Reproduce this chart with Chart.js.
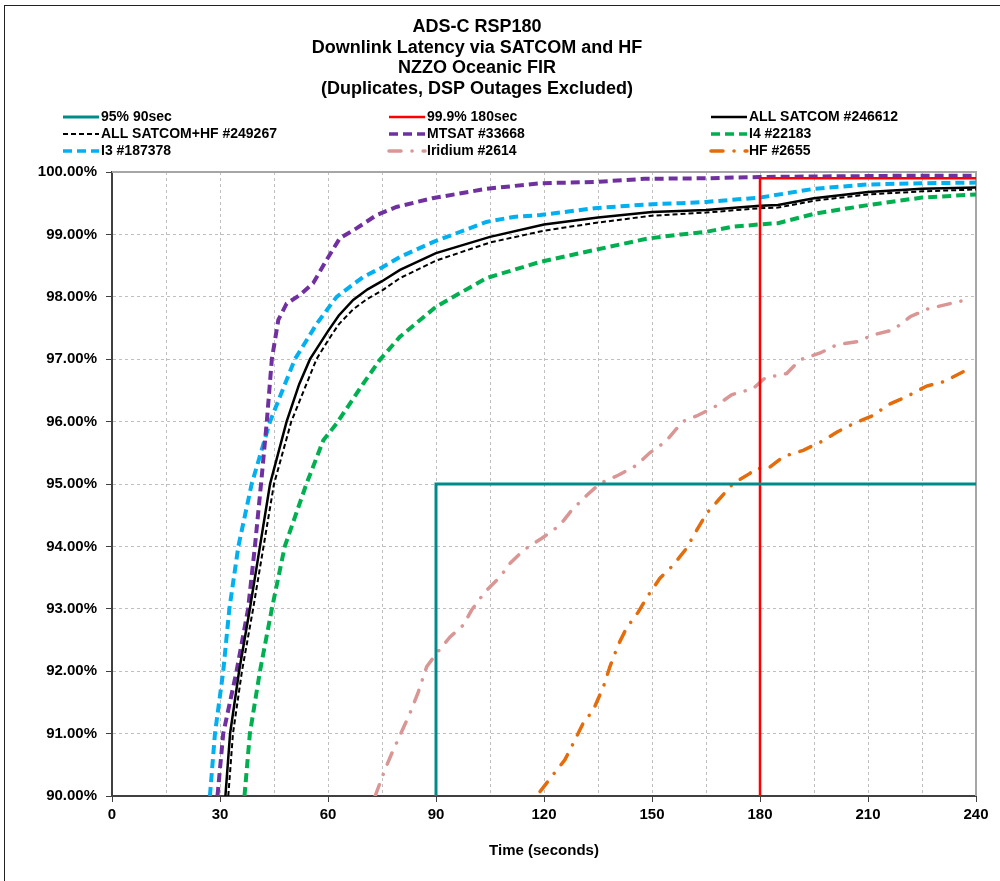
<!DOCTYPE html>
<html>
<head>
<meta charset="utf-8">
<title>ADS-C RSP180 Downlink Latency</title>
<script src="https://cdn.jsdelivr.net/npm/chart.js@4.4.1/dist/chart.umd.min.js"></script>
<style>
  html, body { margin: 0; padding: 0; background: #fff; overflow: hidden; }
  #wrap { position: relative; width: 1000px; height: 881px; }
  #frame { position: absolute; left: 4px; top: 5px; width: 1200px; height: 1200px; border: 1px solid #222; pointer-events: none; }
  canvas { position: absolute; left: 0; top: 0; }
</style>
</head>
<body>
<div id="wrap">
  <canvas id="latencyChart" width="1000" height="881"></canvas>
  <div id="frame"></div>
</div>
<script>
// Chart data (time in seconds, cumulative percent delivered)
const titleLines = ['ADS-C RSP180', 'Downlink Latency via SATCOM and HF', 'NZZO Oceanic FIR', '(Duplicates, DSP Outages Excluded)'];
const xTitle = 'Time (seconds)';

const req95X = [90, 90, 240];
const req95Y = [90, 95, 95];
const req999X = [180, 180, 240];
const req999Y = [90, 99.9, 99.9];

const satcomX = [31.5, 32.8, 35.3, 38.3, 41.1, 43.9, 48.5, 52, 55, 60, 63, 67, 71, 75, 80, 90, 105, 120, 135, 150, 165, 180, 185, 195, 210, 225, 240];
const satcomY = [90, 91, 92, 93, 94, 95, 96, 96.6, 97, 97.45, 97.7, 97.95, 98.12, 98.25, 98.43, 98.7, 98.96, 99.16, 99.27, 99.36, 99.39, 99.46, 99.47, 99.58, 99.68, 99.73, 99.75];

const satcomHfX = [32.3, 33.6, 36.1, 39.2, 42.1, 45, 49.8, 56.8, 60, 63, 67, 71, 75, 80, 90, 105, 120, 135, 150, 165, 180, 185, 195, 210, 225, 240];
const satcomHfY = [90, 91, 92, 93, 94, 95, 96, 97, 97.3, 97.56, 97.8, 97.97, 98.1, 98.3, 98.58, 98.87, 99.06, 99.19, 99.3, 99.35, 99.42, 99.43, 99.54, 99.64, 99.69, 99.72];

const mtsatX = [29.3, 30.9, 34.6, 37.8, 39.7, 41.4, 43, 44.4, 46.2, 48.5, 52.2, 55.9, 59.6, 63.3, 68, 73.5, 79, 89, 104, 119, 134, 148, 165, 180, 200, 220, 240];
const mtsatY = [90, 91, 92, 93, 94, 95, 96, 97, 97.63, 97.89, 98.03, 98.22, 98.59, 98.94, 99.1, 99.31, 99.44, 99.58, 99.73, 99.82, 99.84, 99.89, 99.9, 99.92, 99.93, 99.94, 99.94];

const i4X = [36.8, 38.3, 41.1, 44.4, 48, 54, 58.7, 62.4, 69.8, 74.4, 80, 90, 104, 119, 134, 148.5, 158, 165, 172, 180, 185, 195, 210, 225, 240];
const i4Y = [90, 91, 92, 93, 94, 95, 95.7, 95.97, 96.61, 96.99, 97.36, 97.84, 98.3, 98.56, 98.75, 98.93, 99.0, 99.04, 99.12, 99.16, 99.18, 99.33, 99.47, 99.59, 99.64];

const i3X = [27.2, 28.6, 30.9, 32.6, 35.1, 38.8, 43.9, 50.8, 56.9, 62.4, 69.8, 75, 80, 89.3, 104, 111.5, 119, 134, 148.5, 158, 165, 180, 195, 210, 225, 240];
const i3Y = [90, 91, 92, 93, 94, 95, 96, 97, 97.57, 98.0, 98.32, 98.47, 98.64, 98.88, 99.2, 99.28, 99.31, 99.42, 99.48, 99.5, 99.52, 99.59, 99.73, 99.8, 99.82, 99.83];

const iridiumX = [73.1, 75.8, 77.7, 82.8, 85.1, 87.4, 90.2, 93.9, 97.6, 99.9, 103.6, 107.8, 110.6, 114.3, 119.4, 124.4, 127.7, 131.9, 135.6, 140.6, 145.7, 149.4, 153.8, 158.5, 162.4, 167.5, 172.1, 178.1, 181.4, 187.4, 191.1, 196.7, 201.3, 206.9, 211.5, 217, 221.7, 226.8, 232.8, 237.9];
const iridiumY = [90, 90.42, 90.68, 91.33, 91.67, 92.07, 92.29, 92.55, 92.74, 92.98, 93.27, 93.51, 93.73, 93.94, 94.13, 94.34, 94.58, 94.82, 95.01, 95.14, 95.3, 95.5, 95.68, 96.0, 96.09, 96.24, 96.43, 96.53, 96.7, 96.77, 96.99, 97.1, 97.23, 97.28, 97.39, 97.47, 97.68, 97.81, 97.89, 97.96];

const hfX = [118.9, 121.7, 125.8, 128.6, 130.9, 133.7, 136.5, 138.3, 140.6, 142.9, 146.2, 149, 152.2, 155.9, 159.6, 161.9, 165.2, 168.4, 172.6, 177.2, 178.6, 182.3, 186.5, 192, 197.1, 201.3, 206.4, 211.5, 215.6, 220.7, 226.3, 231, 236.5];
const hfY = [90.07, 90.28, 90.58, 90.9, 91.17, 91.38, 91.75, 92.07, 92.42, 92.69, 92.95, 93.22, 93.49, 93.7, 93.97, 94.21, 94.53, 94.74, 95.01, 95.17, 95.25, 95.25, 95.44, 95.54, 95.68, 95.83, 95.98, 96.1, 96.27, 96.4, 96.57, 96.64, 96.8];

const FONT = '"Liberation Sans", Arial, sans-serif';

function pts(xs, ys) {
    return xs.map((x, i) => ({ x: x, y: ys[i] }));
}

function series(label, xs, ys, color, width, dash, cap) {
    return {
        label: label,
        data: pts(xs, ys),
        borderColor: color,
        backgroundColor: color,
        borderWidth: width,
        borderDash: dash,
        borderCapStyle: cap || 'butt',
        pointRadius: 0,
        tension: 0,
        fill: false
    };
}

// Title and 3-column legend drawn on top of the chart
const headerPlugin = {
    id: 'header',
    afterDraw(chart) {
        const ctx = chart.ctx;
        ctx.save();
        ctx.fillStyle = '#000';
        ctx.textBaseline = 'middle';

        ctx.font = 'bold 18px ' + FONT;
        ctx.textAlign = 'center';
        titleLines.forEach((t, i) => ctx.fillText(t, 477, 27 + i * 20.7));

        const cols = [63, 389, 711];
        const rows = [117, 134, 151];
        ctx.textAlign = 'left';
        ctx.font = 'bold 14px ' + FONT;
        chart.data.datasets.forEach((ds, i) => {
            const x = cols[i % 3];
            const y = rows[Math.floor(i / 3)];
            ctx.strokeStyle = ds.borderColor;
            ctx.lineWidth = Math.min(ds.borderWidth, 3.5);
            ctx.setLineDash(ds.borderDash || []);
            ctx.lineCap = ds.borderCapStyle;
            ctx.beginPath();
            ctx.moveTo(x, y);
            ctx.lineTo(x + 36, y);
            ctx.stroke();
            ctx.setLineDash([]);
            ctx.fillText(ds.label, x + 38, y);
        });
        ctx.restore();
    },
    beforeDatasetsDraw(chart) {
        // solid grey frame on top and right of the plot area
        const a = chart.chartArea;
        const ctx = chart.ctx;
        ctx.save();
        ctx.strokeStyle = '#a6a6a6';
        ctx.lineWidth = 2;
        ctx.beginPath();
        ctx.moveTo(a.left, a.top);
        ctx.lineTo(a.right, a.top);
        ctx.lineTo(a.right, a.bottom);
        ctx.stroke();
        ctx.restore();
    }
};

const ctx = document.getElementById('latencyChart').getContext('2d');

new Chart(ctx, {
    type: 'line',
    data: {
        datasets: [
            series('95% 90sec', req95X, req95Y, '#008b8b', 3, []),
            series('99.9% 180sec', req999X, req999Y, '#ff0000', 2.5, []),
            series('ALL SATCOM #246612', satcomX, satcomY, '#000000', 2.5, []),
            series('ALL SATCOM+HF #249267', satcomHfX, satcomHfY, '#000000', 2, [5, 3]),
            series('MTSAT #33668', mtsatX, mtsatY, '#7030a0', 4, [9, 5]),
            series('I4 #22183', i4X, i4Y, '#00b050', 4, [9, 5]),
            series('I3 #187378', i3X, i3Y, '#00b0f0', 4, [9, 5]),
            series('Iridium #2614', iridiumX, iridiumY, '#d99694', 3.5, [12, 11, 0.1, 11], 'round'),
            series('HF #2655', hfX, hfY, '#e46c0a', 3.5, [12, 11, 0.1, 11], 'round')
        ]
    },
    options: {
        responsive: false,
        animation: false,
        devicePixelRatio: 1,
        layout: {
            padding: { top: 172, right: 24, left: 0, bottom: 0 }
        },
        plugins: {
            legend: { display: false },
            title: { display: false },
            tooltip: { enabled: false }
        },
        scales: {
            x: {
                type: 'linear',
                min: 0,
                max: 240,
                afterFit: scale => { scale.height = 85; },
                ticks: {
                    stepSize: 15,
                    autoSkip: false,
                    maxRotation: 0,
                    padding: 4,
                    color: '#000',
                    font: { family: FONT, size: 15, weight: 'bold' },
                    callback: v => (v % 30 === 0 ? v : '')
                },
                grid: {
                    color: '#bfbfbf',
                    lineWidth: 1,
                    tickLength: 6,
                    tickColor: c => (c.tick && c.tick.value % 30 === 0 ? '#404040' : 'rgba(0,0,0,0)')
                },
                border: { color: '#404040', width: 2, dash: [3, 3] },
                title: {
                    display: true,
                    text: xTitle,
                    color: '#000',
                    font: { family: FONT, size: 15, weight: 'bold' },
                    padding: { top: 4, bottom: 21 }
                }
            },
            y: {
                min: 90,
                max: 100,
                afterFit: scale => { scale.width = 112; },
                ticks: {
                    stepSize: 1,
                    padding: 9,
                    color: '#000',
                    font: { family: FONT, size: 15, weight: 'bold' },
                    callback: v => v.toFixed(2) + '%'
                },
                grid: {
                    color: '#bfbfbf',
                    lineWidth: 1,
                    tickLength: 6,
                    tickColor: '#404040'
                },
                border: { color: '#404040', width: 2, dash: [3, 3] }
            }
        }
    },
    plugins: [headerPlugin]
});
</script>
</body>
</html>
